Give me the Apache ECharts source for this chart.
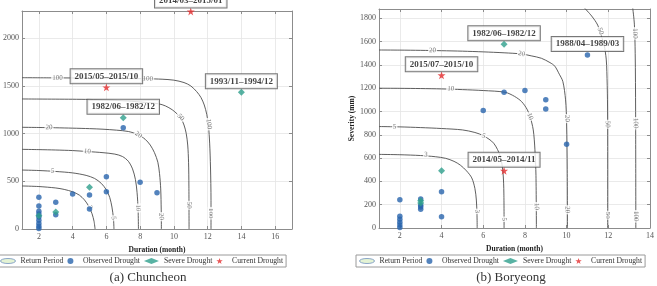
<!DOCTYPE html>
<html>
<head>
<meta charset="utf-8">
<script src="https://cdn.jsdelivr.net/npm/echarts@6/dist/echarts.min.js"></script>
<style>
  html, body { margin: 0; padding: 0; background: #fff; }
  #chart { width: 657px; height: 286px; }
</style>
</head>
<body>
<div id="chart"></div>
<script>
// ---------- (a) Chuncheon ----------
const chunXTicks = [2, 4, 6, 8, 10, 12, 14, 16];
const chunYTicks = [0, 500, 1000, 1500, 2000];

// return period curves [duration, severity]
const chun3 = [[1,451],[2,445],[3,430],[3.5,415],[4,390],[4.4,355],[4.7,305],[4.95,240],[5.15,160],[5.27,80],[5.33,0]];
const chun5 = [[1,618],[2,613],[3,603],[4,588],[4.8,562],[5.3,530],[5.7,478],[6.0,410],[6.2,330],[6.33,230],[6.42,110],[6.45,0]];
const chun10 = [[1,835],[2,832],[3,828],[4,822],[4.87,812],[5.8,800],[6.5,785],[6.95,760],[7.3,710],[7.55,630],[7.72,520],[7.82,380],[7.88,200],[7.9,0]];
const chun20 = [[1,1066],[2,1064],[3,1061],[4,1057],[5,1052],[5.8,1046],[6.6,1036],[7.3,1022],[7.9,988],[8.3,940],[8.6,880],[8.85,800],[9.05,700],[9.15,580],[9.22,420],[9.25,200],[9.26,0]];
const chun50 = [[1,1363],[2,1362],[3,1361],[4,1360],[5,1358],[6,1352],[7,1344],[8,1332],[9.1,1312],[9.5,1290],[9.9,1250],[10.2,1205],[10.42,1160],[10.6,1090],[10.73,1003],[10.82,880],[10.87,700],[10.89,450],[10.9,0]];
const chun100 = [[1,1586],[3,1584],[5,1582],[7,1578],[8.4,1575],[9.3,1570],[10.0,1560],[10.6,1535],[11.0,1500],[11.35,1440],[11.6,1380],[11.8,1300],[11.95,1200],[12.05,1080],[12.12,900],[12.17,650],[12.2,300],[12.2,0]];
// curve labels [period, duration, severity]
const chunCurveLabels = [
  ['3',5.02,225],
  ['5',2.82,608],['5',6.43,115],
  ['10',4.87,814],['10',7.88,220],
  ['20',2.6,1064],['20',7.9,988],['20',9.25,130],
  ['50',10.4,1170],['50',10.9,250],
  ['100',3.1,1584],['100',8.45,1575],['100',12.07,1100],['100',12.2,165]
];

const chunObserved = [[2,332],[2,241],[2,185],[2,157],[2,126],[2,92],[2,58],[2,30],[2,5],
  [3,280],[3,150],[4,367],[5,356],[5,210],[6,548],[6,391],[7,1062],[8,489],[9,381]];
const chunSevere = [[2,140],[3,178],[5,437],[7,1166],[14,1433]];
const chunCurrent = [[6,1485],[11,2280]];
const chunNotes = [[6,1485,'2015/05–2015/10'],[7,1166,'1982/06–1982/12'],[14,1433,'1993/11–1994/12'],[11,2280,'2014/03–2015/01']];

// ---------- (b) Boryeong ----------
const boryXTicks = [2, 4, 6, 8, 10, 12, 14];
const boryYTicks = [0, 200, 400, 600, 800, 1000, 1200, 1400, 1600, 1800];

const bory3 = [[1,632],[2,629],[3,622],[3.7,612],[4.2,598],[4.6,572],[4.9,540],[5.2,490],[5.45,430],[5.6,340],[5.67,240],[5.7,120],[5.71,0]];
const bory5 = [[1,871],[2,868],[3,862],[4,854],[5,842],[5.6,820],[6.02,791],[6.5,728],[6.82,614],[6.95,470],[6.99,300],[7.0,0]];
const bory10 = [[1,1200],[2,1199],[3,1197],[4,1194],[5,1188],[6,1180],[7.05,1165],[7.5,1130],[7.84,1085],[8.1,1020],[8.24,960],[8.4,842],[8.48,671],[8.53,450],[8.55,0]];
const bory20 = [[1,1528],[2,1527],[3,1525],[4,1522],[5,1518],[6,1512],[7,1504],[7.84,1494],[8.3,1478],[8.79,1457],[9.2,1420],[9.43,1390],[9.65,1320],[9.82,1257],[9.95,1100],[10.0,900],[10.03,500],[10.04,0]];
const bory50 = [[10.85,1890],[11.2,1820],[11.49,1742],[11.7,1630],[11.8,1571],[11.9,1450],[11.93,1342],[11.96,1100],[11.97,700],[11.97,0]];
const bory100 = [[13.17,1890],[13.25,1750],[13.29,1500],[13.31,1000],[13.32,0]];
const boryCurveLabels = [
  ['3',3.25,630],['3',5.71,142],
  ['5',1.75,870],['5',6.02,791],['5',7.0,75],
  ['10',4.44,1196],['10',8.24,957],['10',8.56,185],
  ['20',3.57,1525],['20',7.84,1494],['20',10.02,940],['20',10.04,157],
  ['50',11.62,1690],['50',11.97,890],['50',11.97,110],
  ['100',13.28,1670],['100',13.31,900],['100',13.32,100]
];

const boryObserved = [[2,243],[2,100],[2,75],[2,50],[2,25],[2,5],[3,160],[3,180],[3,195],[3,250],
  [4,311],[4,97],[6,1008],[7,1165],[8,1180],[9,1100],[9,1022],[10,720],[11,1485]];
const borySevere = [[3,215],[3,235],[4,491],[7,1577]];
const boryCurrent = [[4,1311],[7,491]];
const boryNotes = [[7,1577,'1982/06–1982/12'],[4,1311,'2015/07–2015/10'],[11,1485,'1988/04–1989/03'],[7,491,'2014/05–2014/11']];

const legendNames = ['Return Period', 'Observed Drought', 'Severe Drought', 'Current Drought'];

// ---------- drawing ----------
const serif = 'Liberation Serif';
const starPath = 'path://M50,2 L61.8,36.2 L97.6,36.2 L68.6,57.4 L79.6,91.6 L50,70.4 L20.4,91.6 L31.4,57.4 L2.4,36.2 L38.2,36.2 Z';
const ellipsePath = 'path://M0,5 A15,5 0 1,0 30,5 A15,5 0 1,0 0,5 Z';
const blue = '#2864ad', teal = '#2e9f8c', red = '#e42a2c';

const panels = [
  { xMax: 17, yMax: 2285, xTicks: chunXTicks, yTicks: chunYTicks, yName: '',
    curves: [['3', chun3], ['5', chun5], ['10', chun10], ['20', chun20], ['50', chun50], ['100', chun100]],
    curveLabels: chunCurveLabels, observed: chunObserved, severe: chunSevere, current: chunCurrent, notes: chunNotes },
  { xMax: 14, yMax: 1880, xTicks: boryXTicks, yTicks: boryYTicks, yName: 'Severity (mm)',
    curves: [['3', bory3], ['5', bory5], ['10', bory10], ['20', bory20], ['50', bory50], ['100', bory100]],
    curveLabels: boryCurveLabels, observed: boryObserved, severe: borySevere, current: boryCurrent, notes: boryNotes }
];

const boxLine = { show: true, onZero: false, lineStyle: { color: '#8c8c8c', width: 1 } };
const tickStyle = { color: '#8c8c8c', width: 1 };
const labelFont = { fontFamily: serif, fontSize: 8, color: '#555' };
const nameFont = { fontFamily: serif, fontWeight: 'bold', fontSize: 7.5, color: '#222' };

const xAxes = [], yAxes = [], series = [];
panels.forEach(function (p, g) {
  xAxes.push({
    gridIndex: g, type: 'value', min: 1, max: p.xMax, position: 'bottom',
    name: 'Duration (month)', nameLocation: 'middle', nameGap: 12, nameTextStyle: nameFont,
    axisLine: boxLine,
    axisTick: { show: true, inside: true, length: 3, customValues: p.xTicks, lineStyle: tickStyle },
    axisLabel: Object.assign({ customValues: p.xTicks, margin: 4, formatter: v => String(v) }, labelFont),
    splitLine: { show: true, lineStyle: { color: '#e4e4e4', width: 0.8 } }
  });
  xAxes.push({
    gridIndex: g, type: 'value', min: 1, max: p.xMax, position: 'top',
    axisLine: boxLine,
    axisTick: { show: true, inside: true, length: 3, customValues: p.xTicks, lineStyle: tickStyle },
    axisLabel: { show: false }, splitLine: { show: false }
  });
  yAxes.push({
    gridIndex: g, type: 'value', min: 0, max: p.yMax, position: 'left',
    name: p.yName, nameLocation: 'middle', nameGap: 20, nameTextStyle: nameFont,
    axisLine: boxLine,
    axisTick: { show: true, inside: true, length: 3, customValues: p.yTicks, lineStyle: tickStyle },
    axisLabel: Object.assign({ customValues: p.yTicks, margin: 3, formatter: v => String(v) }, labelFont),
    splitLine: { show: true, lineStyle: { color: '#e4e4e4', width: 0.8 } }
  });
  yAxes.push({
    gridIndex: g, type: 'value', min: 0, max: p.yMax, position: 'right',
    axisLine: boxLine,
    axisTick: { show: true, inside: true, length: 3, customValues: p.yTicks, lineStyle: tickStyle },
    axisLabel: { show: false }, splitLine: { show: false }
  });

  const ax = { xAxisIndex: 2 * g, yAxisIndex: 2 * g };
  p.curves.forEach(function (c) {
    series.push(Object.assign({
      type: 'line', name: 'Return Period', data: c[1], symbol: 'none', smooth: 0.3,
      lineStyle: { color: '#4d4d4d', width: 0.9 }, itemStyle: { color: '#e4f3d4' },
      silent: true, z: 2
    }, ax));
  });
  series.push(Object.assign({ type: 'scatter', name: 'Observed Drought', data: p.observed,
    symbol: 'circle', symbolSize: 5.5, itemStyle: { color: blue }, z: 4 }, ax));
  series.push(Object.assign({ type: 'scatter', name: 'Severe Drought', data: p.severe,
    symbol: 'diamond', symbolSize: 7, itemStyle: { color: teal }, z: 4 }, ax));
  series.push(Object.assign({ type: 'scatter', name: 'Current Drought', data: p.current,
    symbol: starPath, symbolSize: 8, itemStyle: { color: red }, z: 4 }, ax));
  series.push(Object.assign({ type: 'scatter', name: 'notes', data: p.notes, symbolSize: 0, silent: true, z: 6,
    label: { show: true, position: 'top', distance: 4, formatter: d => d.value[2],
      fontFamily: serif, fontWeight: 'bold', fontSize: 9, lineHeight: 10, color: '#111',
      backgroundColor: '#fff', borderColor: '#555', borderWidth: 1, padding: [2, 4] } }, ax));
});

const legendItems = [
  { name: 'Return Period', icon: ellipsePath, itemStyle: { color: '#e4f3d4', borderColor: '#8aa6c8', borderWidth: 1 } },
  { name: 'Observed Drought', icon: 'circle', itemStyle: { color: blue } },
  { name: 'Severe Drought', icon: 'diamond', itemStyle: { color: teal } },
  { name: 'Current Drought', icon: starPath, itemStyle: { color: red } }
];
function legendAt(left) {
  return {
    left: left, top: 255, orient: 'horizontal', itemWidth: 15, itemHeight: 6, itemGap: 4,
    padding: [2, 3], borderColor: '#9a9a9a', borderWidth: 1, backgroundColor: '#fff',
    selectedMode: false,
    textStyle: { fontFamily: serif, fontSize: 7.7, color: '#333' },
    data: legendItems
  };
}

const option = {
  animation: false,
  backgroundColor: '#fff',
  grid: [
    { left: 19, top: 11, width: 273, height: 218 },
    { left: 379, top: 9, width: 274, height: 219 }
  ],
  xAxis: xAxes,
  yAxis: yAxes,
  legend: [legendAt(-3), legendAt(356)],
  graphic: [
    { type: 'text', x: 148, y: 278, style: { text: '(a) Chuncheon', fontFamily: serif, fontSize: 13, fill: '#333', align: 'center', verticalAlign: 'middle' } },
    { type: 'text', x: 511, y: 278, style: { text: '(b) Boryeong', fontFamily: serif, fontSize: 13, fill: '#333', align: 'center', verticalAlign: 'middle' } }
  ],
  series: series
};

const chart = echarts.init(document.getElementById('chart'));
chart.setOption(option);

// contour labels follow the local direction of their curve
function curveAngle(pts, g, x, y) {
  const finder = { xAxisIndex: 2 * g, yAxisIndex: 2 * g };
  const px = pts.map(q => chart.convertToPixel(finder, q));
  const c = chart.convertToPixel(finder, [x, y]);
  let best = 1e9, ang = 0;
  for (let i = 0; i < px.length - 1; i++) {
    const a = px[i], b = px[i + 1];
    const mx = (a[0] + b[0]) / 2, my = (a[1] + b[1]) / 2;
    const d = Math.hypot(c[0] - mx, c[1] - my);
    if (d < best) { best = d; ang = -Math.atan2(b[1] - a[1], b[0] - a[0]) * 180 / Math.PI; }
  }
  if (ang < -90) ang += 180;
  if (ang > 90) ang -= 180;
  return ang;
}

panels.forEach(function (p, g) {
  const byPeriod = {};
  p.curves.forEach(c => { byPeriod[c[0]] = c[1]; });
  const data = p.curveLabels.map(function (l) {
    return { value: [l[1], l[2], l[0]], label: { rotate: curveAngle(byPeriod[l[0]], g, l[1], l[2]) } };
  });
  series.push({
    type: 'scatter', name: 'curveLabels', xAxisIndex: 2 * g, yAxisIndex: 2 * g,
    data: data, symbolSize: 0, silent: true, z: 3,
    label: { show: true, position: 'inside', formatter: d => d.value[2],
      fontFamily: serif, fontSize: 7, color: '#555', backgroundColor: '#fff', padding: [0, 1] }
  });
});
chart.setOption({ series: series });
</script>
</body>
</html>
